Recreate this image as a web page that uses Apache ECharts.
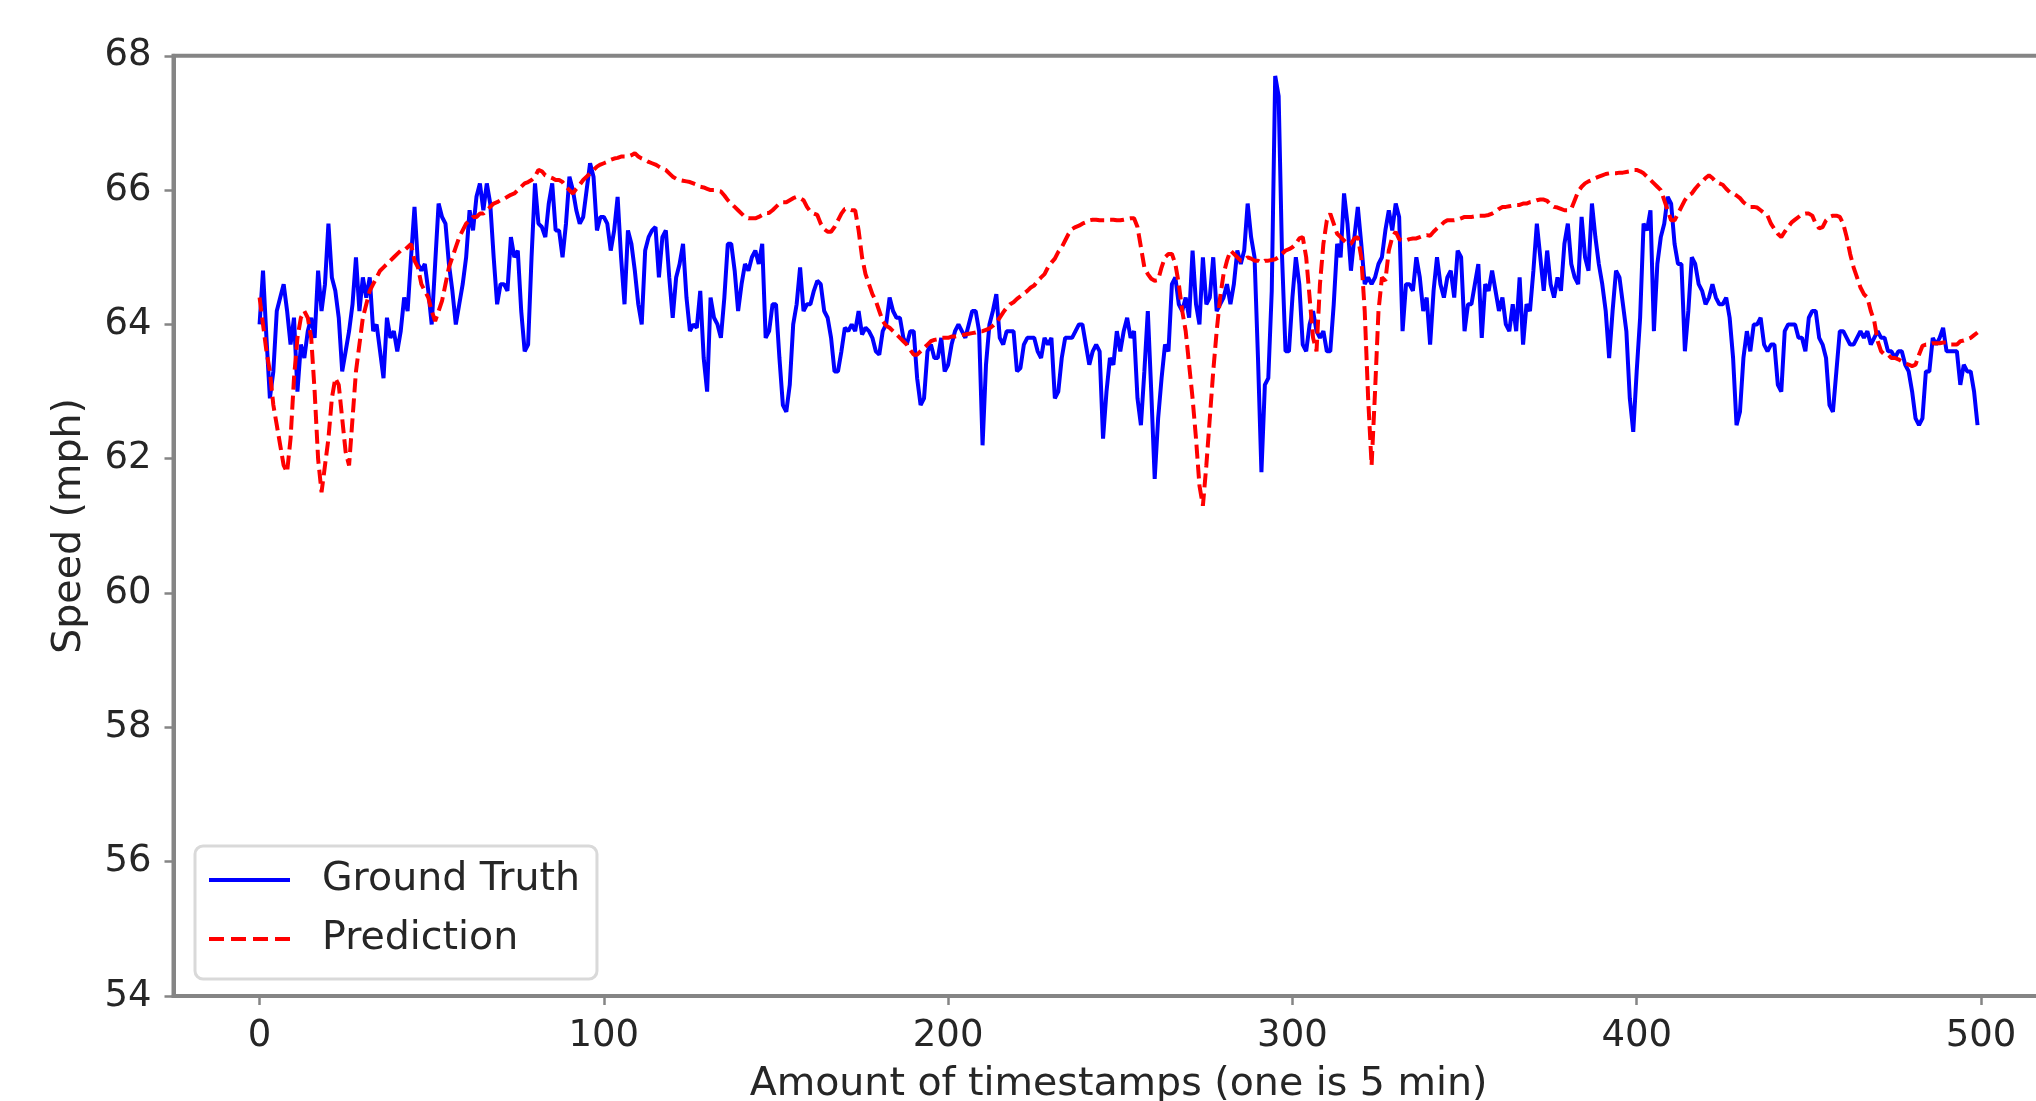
<!DOCTYPE html>
<html>
<head>
<meta charset="utf-8">
<script src="https://cdn.jsdelivr.net/npm/echarts@6/dist/echarts.min.js"></script>
<style>
  html, body { margin: 0; padding: 0; background: #ffffff; }
  #chart { width: 2036px; height: 1101px; }
</style>
</head>
<body>
<div id="chart"></div>
<script>
// ---- Data ----
const seriesNames = ["Ground Truth", "Prediction"];
const xAxisTitle = "Amount of timestamps (one is 5 min)";
const yAxisTitle = "Speed (mph)";
const xTickValues = [0, 100, 200, 300, 400, 500];
const yTickValues = [54, 56, 58, 60, 62, 64, 66, 68];

const groundTruth = [
64.0,64.8,63.8,62.9,63.3,64.2,64.4,64.6,64.2,63.7,
64.1,63.0,63.7,63.5,63.9,64.1,63.8,64.8,64.2,64.6,
65.5,64.7,64.5,64.1,63.3,63.6,63.9,64.3,65.0,64.2,
64.7,64.4,64.7,63.9,64.0,63.6,63.2,64.1,63.8,63.9,
63.6,63.9,64.4,64.2,65.0,65.75,64.9,64.8,64.9,64.5,
64.0,64.9,65.8,65.6,65.5,64.9,64.5,64.0,64.3,64.6,
65.0,65.7,65.4,65.9,66.1,65.7,66.1,65.8,65.0,64.3,
64.6,64.6,64.5,65.3,65.0,65.1,64.2,63.6,63.7,65.0,
66.1,65.5,65.45,65.3,65.8,66.1,65.4,65.4,65.0,65.5,
66.2,66.0,65.7,65.5,65.6,66.0,66.4,66.2,65.4,65.6,
65.6,65.5,65.1,65.4,65.9,65.0,64.3,65.4,65.2,64.8,
64.3,64.0,65.1,65.3,65.4,65.45,64.7,65.3,65.4,64.7,
64.1,64.7,64.9,65.2,64.4,63.9,64.0,63.95,64.5,63.5,
63.0,64.4,64.1,64.0,63.8,64.4,65.2,65.2,64.8,64.2,
64.6,64.9,64.8,65.0,65.1,64.9,65.2,63.8,63.9,64.3,
64.3,63.5,62.8,62.7,63.1,64.0,64.3,64.85,64.2,64.3,
64.3,64.5,64.65,64.6,64.2,64.1,63.8,63.3,63.3,63.6,
63.95,63.9,64.0,63.9,64.2,63.85,63.95,63.9,63.8,63.6,
63.55,63.9,64.0,64.4,64.2,64.1,64.1,63.8,63.7,63.9,
63.9,63.2,62.8,62.9,63.6,63.7,63.5,63.5,63.8,63.3,
63.4,63.7,63.9,64.0,63.9,63.8,64.0,64.2,64.2,63.9,
62.2,63.4,64.0,64.2,64.45,63.8,63.7,63.9,63.9,63.9,
63.3,63.35,63.7,63.8,63.8,63.8,63.6,63.5,63.8,63.7,
63.8,62.9,63.0,63.5,63.8,63.8,63.8,63.9,64.0,64.0,
63.7,63.4,63.6,63.7,63.6,62.3,63.0,63.5,63.4,63.9,
63.6,63.9,64.1,63.8,63.9,62.9,62.5,63.3,64.2,63.0,
61.7,62.6,63.2,63.7,63.6,64.6,64.7,64.3,64.2,64.4,
64.1,65.1,64.3,64.0,65.0,64.3,64.4,65.0,64.2,64.3,
64.4,64.6,64.3,64.6,65.1,64.9,65.1,65.8,65.3,65.0,
63.5,61.8,63.1,63.2,64.5,67.7,67.4,65.0,63.6,63.6,
64.4,65.0,64.6,63.7,63.6,64.0,64.2,63.9,63.8,63.9,
63.6,63.6,64.3,65.2,65.0,65.95,65.5,64.8,65.3,65.75,
65.2,64.6,64.7,64.6,64.7,64.9,65.0,65.4,65.7,65.4,
65.8,65.6,63.9,64.6,64.6,64.5,65.0,64.7,64.2,64.4,
63.7,64.5,65.0,64.6,64.4,64.7,64.8,64.4,65.1,65.0,
63.9,64.3,64.3,64.6,64.9,63.8,64.6,64.5,64.8,64.5,
64.2,64.4,64.0,63.9,64.3,63.9,64.7,63.7,64.3,64.2,
64.8,65.5,65.0,64.5,65.1,64.6,64.4,64.7,64.5,65.2,
65.5,64.9,64.7,64.6,65.6,65.0,64.8,65.8,65.3,64.9,
64.6,64.2,63.5,64.2,64.8,64.7,64.3,63.9,62.9,62.4,
63.3,64.1,65.5,65.4,65.7,63.9,64.9,65.3,65.5,65.9,
65.8,65.2,64.9,64.9,63.6,64.2,65.0,64.9,64.6,64.5,
64.3,64.4,64.6,64.4,64.3,64.3,64.4,64.1,63.5,62.5,
62.7,63.5,63.9,63.6,64.0,64.0,64.1,63.7,63.6,63.7,
63.7,63.1,63.0,63.9,64.0,64.0,64.0,63.8,63.8,63.6,
64.1,64.2,64.2,63.8,63.7,63.5,62.8,62.7,63.3,63.9,
63.9,63.8,63.7,63.7,63.8,63.9,63.8,63.9,63.7,63.8,
63.9,63.8,63.8,63.6,63.6,63.5,63.6,63.6,63.4,63.3,
63.0,62.6,62.5,62.6,63.3,63.3,63.8,63.7,63.8,63.95,
63.6,63.6,63.6,63.6,63.1,63.4,63.3,63.3,63.0,62.5
];

const prediction = [
64.4,64.0,63.6,63.3,62.8,62.5,62.2,61.9,61.8,62.3,
63.2,63.8,64.1,64.2,64.1,63.8,63.0,62.0,61.5,61.9,
62.3,62.9,63.2,63.1,62.6,62.1,61.9,62.6,63.3,63.7,
64.1,64.3,64.5,64.6,64.7,64.8,64.85,64.9,64.95,65.0,
65.05,65.1,65.1,65.15,65.2,64.95,64.85,64.6,64.5,64.4,
64.2,64.05,64.2,64.35,64.6,64.85,65.0,65.15,65.3,65.4,
65.5,65.55,65.6,65.6,65.65,65.65,65.7,65.75,65.8,65.82,
65.85,65.87,65.9,65.93,65.95,66.0,66.05,66.1,66.12,66.15,
66.2,66.3,66.28,66.22,66.2,66.18,66.15,66.15,66.12,66.05,
66.0,65.95,66.02,66.08,66.15,66.2,66.25,66.3,66.35,66.38,
66.4,66.42,66.45,66.47,66.48,66.5,66.5,66.5,66.52,66.55,
66.5,66.47,66.45,66.42,66.4,66.38,66.35,66.32,66.3,66.25,
66.2,66.17,66.15,66.14,66.13,66.12,66.1,66.08,66.05,66.04,
66.02,66.0,66.0,65.99,65.98,65.92,65.85,65.8,65.75,65.7,
65.65,65.6,65.58,65.58,65.58,65.6,65.63,65.66,65.66,65.7,
65.75,65.8,65.82,65.82,65.85,65.88,65.9,65.88,65.85,65.75,
65.68,65.65,65.63,65.5,65.42,65.38,65.38,65.45,65.55,65.65,
65.72,65.72,65.7,65.7,65.4,65.0,64.75,64.6,64.45,64.35,
64.2,64.05,63.98,63.95,63.9,63.85,63.8,63.75,63.7,63.62,
63.55,63.55,63.6,63.65,63.7,63.75,63.77,63.78,63.8,63.8,
63.8,63.82,63.82,63.83,63.84,63.85,63.86,63.87,63.88,63.9,
63.9,63.92,63.94,63.98,64.03,64.1,64.18,64.25,64.3,64.33,
64.38,64.42,64.46,64.5,64.55,64.58,64.65,64.7,64.75,64.85,
64.92,64.98,65.08,65.15,65.25,65.35,65.42,65.45,65.47,65.5,
65.52,65.55,65.56,65.56,65.55,65.55,65.55,65.56,65.56,65.55,
65.55,65.56,65.57,65.58,65.58,65.45,65.15,64.85,64.75,64.68,
64.65,64.66,64.85,65.0,65.05,65.05,64.9,64.6,64.2,63.9,
63.4,62.9,62.3,61.6,61.3,61.9,62.6,63.3,63.9,64.4,
64.75,64.95,65.1,65.05,65.0,64.95,64.95,65.0,64.98,64.95,
64.95,64.92,64.95,64.95,64.96,64.97,65.0,65.05,65.1,65.12,
65.15,65.2,65.28,65.3,65.0,64.4,63.8,63.6,64.6,65.2,
65.55,65.65,65.5,65.35,65.3,65.25,65.2,65.2,65.28,65.3,
65.0,64.2,62.9,61.9,63.0,64.2,64.7,64.65,65.1,65.3,
65.38,65.27,65.25,65.25,65.27,65.28,65.28,65.3,65.32,65.33,
65.32,65.38,65.43,65.47,65.52,65.55,65.55,65.55,65.56,65.58,
65.6,65.6,65.6,65.61,65.62,65.62,65.62,65.63,65.65,65.68,
65.72,65.75,65.75,65.76,65.77,65.78,65.78,65.8,65.8,65.82,
65.83,65.85,65.86,65.86,65.84,65.78,65.75,65.74,65.72,65.7,
65.7,65.72,65.85,65.98,66.05,66.1,66.13,66.15,66.18,66.2,
66.22,66.24,66.25,66.25,66.25,66.26,66.26,66.27,66.28,66.3,
66.3,66.28,66.25,66.2,66.15,66.1,66.05,66.0,65.85,65.7,
65.55,65.55,65.65,65.75,65.85,65.92,65.95,66.02,66.08,66.12,
66.18,66.22,66.18,66.12,66.1,66.08,66.02,65.97,65.95,65.92,
65.88,65.82,65.78,65.75,65.75,65.74,65.7,65.66,65.62,65.5,
65.42,65.35,65.3,65.38,65.45,65.52,65.56,65.6,65.64,65.65,
65.65,65.62,65.5,65.43,65.45,65.55,65.6,65.62,65.62,65.6,
65.5,65.3,65.05,64.85,64.7,64.55,64.45,64.4,64.2,64.05,
63.75,63.6,63.55,63.55,63.5,63.5,63.48,63.45,63.42,63.4,
63.38,63.4,63.55,63.68,63.7,63.7,63.72,63.72,63.72,63.73,
63.73,63.7,63.7,63.7,63.75,63.76,63.78,63.8,63.84,63.88
];

// ---- Chart ----
const FONT = "'DejaVu Sans', 'Liberation Sans', sans-serif";
const TEXT_COLOR = '#262626';
const SPINE = '#858585';

// legend sample icons: a solid stroke and a dashed stroke
const SOLID_ICON = 'path://M0,0H81V4H0Z';
const DASHED_ICON = 'path://M0,0H15V4H0Z M22,0H37V4H22Z M44,0H59V4H44Z M66,0H81V4H66Z';

const chart = echarts.init(document.getElementById('chart'), null, { renderer: 'canvas' });

const toPairs = arr => arr.map((v, i) => [i, v]);

chart.setOption({
  animation: false,
  backgroundColor: '#ffffff',
  grid: {
    left: 173.5,
    top: 55.8,
    width: 1890.1,
    height: 940.2,
    show: true,
    borderColor: SPINE,
    borderWidth: 4,
    backgroundColor: 'transparent',
    containLabel: false,
    outerBoundsMode: 'none'
  },
  legend: {
    orient: 'vertical',
    left: 195,
    top: 846,
    padding: [14, 17, 20, 14],
    itemWidth: 81,
    itemHeight: 4,
    itemGap: 19,
    backgroundColor: 'rgba(255,255,255,0.8)',
    borderColor: '#d9d9d9',
    borderWidth: 3,
    borderRadius: 8,
    selectedMode: false,
    data: [
      { name: seriesNames[0], icon: SOLID_ICON },
      { name: seriesNames[1], icon: DASHED_ICON }
    ],
    textStyle: {
      fontFamily: FONT,
      fontSize: 39.5,
      lineHeight: 40,
      color: TEXT_COLOR,
      padding: [0, 0, 0, 27]
    }
  },
  xAxis: {
    type: 'value',
    min: -25,
    max: 524,
    name: xAxisTitle,
    nameLocation: 'middle',
    nameGap: 69,
    nameTextStyle: { fontFamily: FONT, fontSize: 39.5, color: TEXT_COLOR },
    axisLine: { show: true, onZero: false, lineStyle: { color: SPINE, width: 4 } },
    axisTick: { show: true, length: 9, customValues: xTickValues, lineStyle: { color: SPINE, width: 2.5 } },
    axisLabel: { customValues: xTickValues, margin: 22, fontFamily: FONT, fontSize: 37, color: TEXT_COLOR },
    splitLine: { show: false }
  },
  yAxis: {
    type: 'value',
    min: yTickValues[0],
    max: yTickValues[yTickValues.length - 1],
    interval: 2,
    name: yAxisTitle,
    nameLocation: 'middle',
    nameGap: 84,
    nameTextStyle: { fontFamily: FONT, fontSize: 39.5, color: TEXT_COLOR },
    axisLine: { show: true, onZero: false, lineStyle: { color: SPINE, width: 4 } },
    axisTick: { show: true, length: 9, lineStyle: { color: SPINE, width: 2.5 } },
    axisLabel: { margin: 22, fontFamily: FONT, fontSize: 37, color: TEXT_COLOR },
    splitLine: { show: false }
  },
  series: [
    {
      name: seriesNames[0],
      type: 'line',
      data: toPairs(groundTruth),
      symbol: 'none',
      showSymbol: false,
      silent: true,
      lineStyle: { color: '#0000ff', width: 4 },
      itemStyle: { color: '#0000ff' },
      z: 2
    },
    {
      name: seriesNames[1],
      type: 'line',
      data: toPairs(prediction),
      symbol: 'none',
      showSymbol: false,
      silent: true,
      lineStyle: { color: '#ff0000', width: 4, type: [14, 6] },
      itemStyle: { color: '#ff0000' },
      z: 3
    }
  ]
});
</script>
</body>
</html>
